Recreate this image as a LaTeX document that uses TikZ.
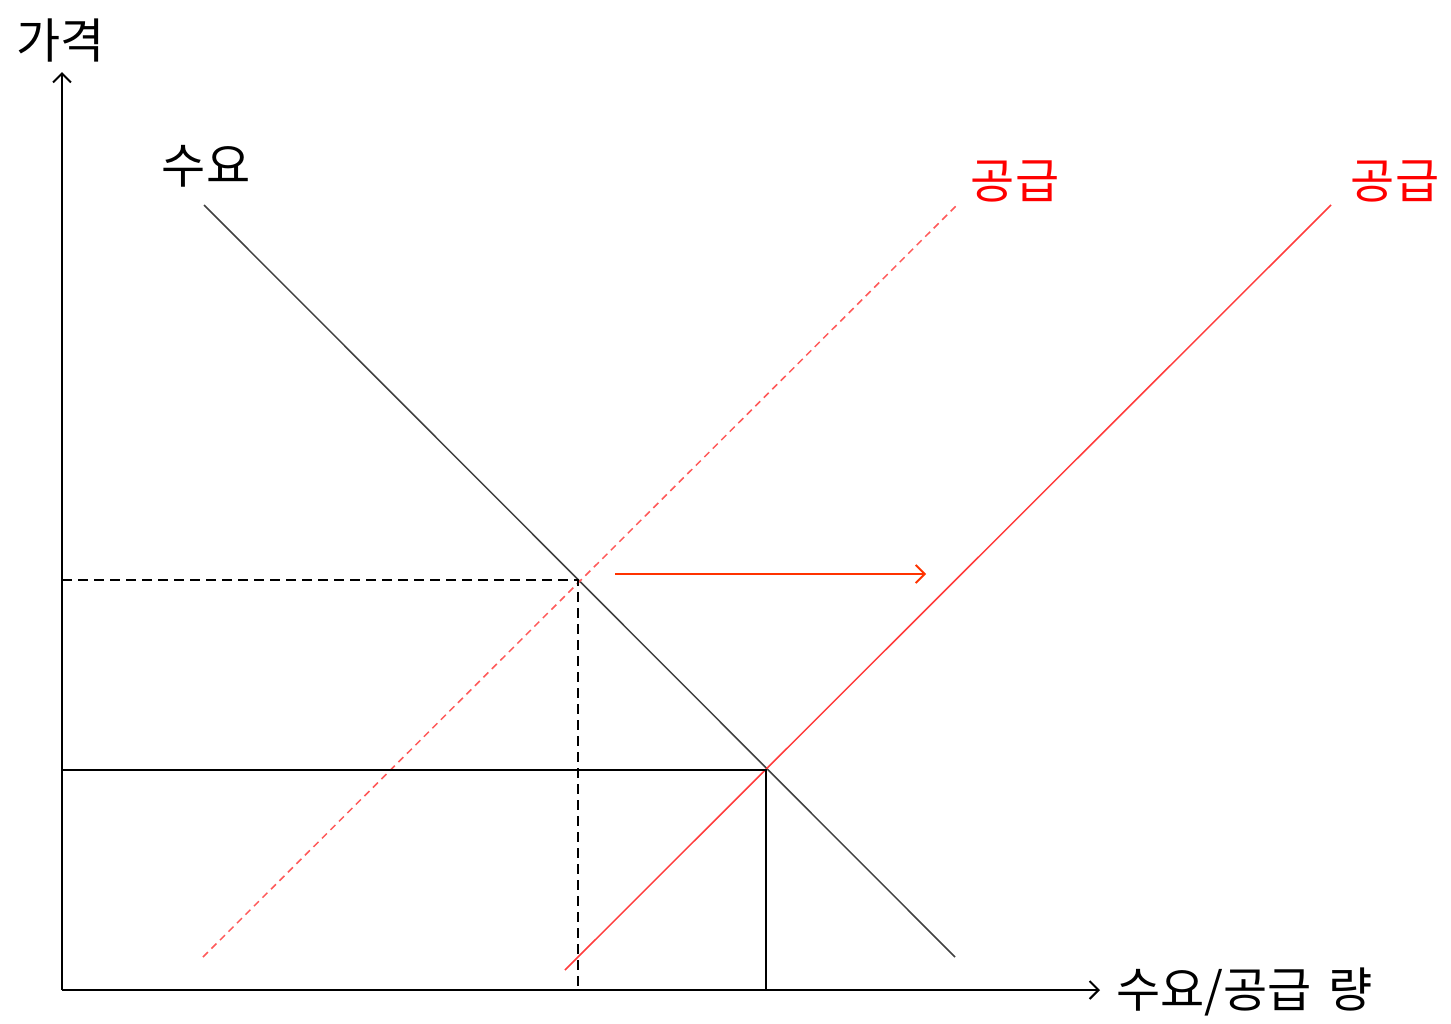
\documentclass[tikz,border=0pt]{standalone}
\usepackage{fontspec}
\newfontfamily\kr{Noto Sans CJK KR}
\usetikzlibrary{arrows.meta}
\definecolor{supred}{RGB}{255,60,60}
\definecolor{shiftred}{RGB}{255,51,0}
\tikzset{
  lbl/.style={font=\kr\fontsize{48}{54}\selectfont, inner sep=0pt},
  axis/.style={line width=2pt, -{Straight Barb[length=9pt,width=18pt,line width=2pt]}},
  curve/.style={line width=1.5pt},
}
\begin{document}
\begin{tikzpicture}[x=1pt,y=-1pt]
\useasboundingbox (0,0) rectangle (1451,1023);
\coordinate (O) at (62,990);
\coordinate (Ytop) at (62,72);
\coordinate (Xend) at (1100,990);
\draw[axis] (O) -- (Ytop);
\draw[axis] (O) -- (Xend);
\node[lbl] (ylab) at (61,40) {가격};
\node[lbl, anchor=west] (xlab) at (1116,992) {수요/공급\hspace{0.12em} 량};
% demand
\coordinate (D1) at (204,205);
\coordinate (D2) at (955,957);
\draw[curve, black!75] (D1) -- (D2);
\node[lbl] (dlab) at (206,166) {수요};
% old supply (dashed)
\coordinate (S1a) at (203,957);
\coordinate (S1b) at (957,205);
\draw[curve, supred!85, dash pattern=on 7pt off 5pt] (S1a) -- (S1b);
\node[lbl, text=red] (s1lab) at (1015,181) {공급};
% new supply
\coordinate (S2a) at (565,970);
\coordinate (S2b) at (1331,205);
\draw[curve, supred] (S2a) -- (S2b);
\node[lbl, text=red] (s2lab) at (1395,181) {공급};
% equilibria
\coordinate (E1) at (578,580);
\coordinate (E2) at (766,770);
\draw[line width=1.6pt, dash pattern=on 10pt off 6pt] (62,580) -- (E1) -- (578,990);
\draw[line width=1.6pt] (62,770) -- (E2) -- (766,990);
% shift arrow
\coordinate (A1) at (615,574);
\coordinate (A2) at (926,574);
\draw[line width=1.8pt, shiftred, -{Straight Barb[length=9pt,width=18pt,line width=1.8pt]}] (A1) -- (A2);
\end{tikzpicture}
\end{document}
